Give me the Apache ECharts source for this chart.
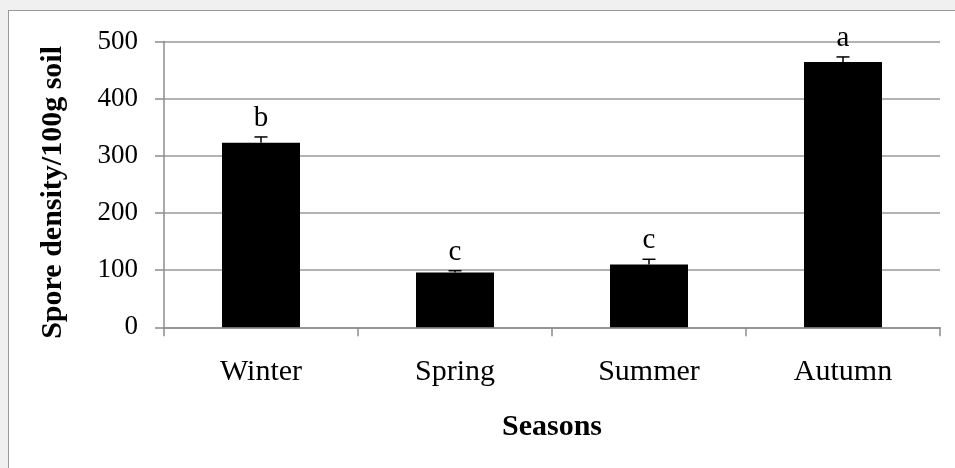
<!DOCTYPE html>
<html>
<head>
<meta charset="utf-8">
<script src="https://cdn.jsdelivr.net/npm/echarts@6/dist/echarts.min.js"></script>
<style>
  html, body { margin: 0; padding: 0; background: #f0f0f0; }
  #frame { position: absolute; left: 8px; top: 10px; width: 947px; height: 458px; background: #ffffff; border-left: 1px solid #9a9a9a; border-top: 1px solid #9a9a9a; box-sizing: border-box; }
  #chart { position: absolute; left: 0; top: 0; width: 955px; height: 468px; }
</style>
</head>
<body>
<div id="frame"></div>
<div id="chart"></div>
<script>
const categories = ['Winter', 'Spring', 'Summer', 'Autumn'];
const sporeDensity = [323, 96, 110, 464];
const errorPlus = [10, 3, 9, 9];
const letters = ['b', 'c', 'c', 'a'];
const yTicks = [0, 100, 200, 300, 400, 500];

const FONT = '"Liberation Serif", "Times New Roman", serif';
const chart = echarts.init(document.getElementById('chart'), null, { renderer: 'canvas' });

const errData = categories.map((c, i) => [i, sporeDensity[i], errorPlus[i], letters[i]]);

chart.setOption({
  backgroundColor: 'transparent',
  animation: false,
  grid: { left: 164, right: 15, top: 41.5, bottom: 140.7, containLabel: false },
  xAxis: {
    type: 'category',
    data: categories,
    name: 'Seasons',
    nameLocation: 'middle',
    nameGap: 85,
    nameTextStyle: { fontFamily: FONT, fontSize: 30, fontWeight: 'bold', color: '#000' },
    axisLine: { lineStyle: { color: '#8c8c8c', width: 1.5 } },
    axisTick: { show: true, length: 9, alignWithLabel: false, lineStyle: { color: '#8c8c8c', width: 1.5 } },
    axisLabel: { fontFamily: FONT, fontSize: 30, color: '#000', margin: 30 },
    splitLine: { show: false }
  },
  yAxis: {
    type: 'value',
    min: yTicks[0],
    max: yTicks[yTicks.length - 1],
    interval: 100,
    name: 'Spore density/100g soil',
    nameLocation: 'middle',
    nameRotate: 90,
    nameGap: 96,
    nameTextStyle: { fontFamily: FONT, fontSize: 30, fontWeight: 'bold', color: '#000', padding: [0, 16, 0, 0] },
    axisLine: { show: true, lineStyle: { color: '#8c8c8c', width: 1.5 } },
    axisTick: { show: true, length: 9, lineStyle: { color: '#8c8c8c', width: 1.5 } },
    axisLabel: { fontFamily: FONT, fontSize: 27, color: '#000', margin: 26 },
    splitLine: { show: true, lineStyle: { color: '#9a9a9a', width: 1.5 } }
  },
  series: [
    {
      type: 'bar',
      data: sporeDensity,
      barWidth: 78,
      itemStyle: { color: '#000000' },
      z: 2
    },
    {
      type: 'custom',
      data: errData,
      z: 3,
      renderItem: function (params, api) {
        const x = api.value(0);
        const v = api.value(1);
        const e = api.value(2);
        const letter = api.value(3);
        const p0 = api.coord([x, v]);
        const p1 = api.coord([x, v + e]);
        const half = 6.5;
        return {
          type: 'group',
          children: [
            { type: 'line', shape: { x1: p0[0], y1: p0[1], x2: p1[0], y2: p1[1] }, style: { stroke: '#000', lineWidth: 1.5 } },
            { type: 'line', shape: { x1: p1[0] - half, y1: p1[1], x2: p1[0] + half, y2: p1[1] }, style: { stroke: '#000', lineWidth: 1.5 } },
            { type: 'text', style: { text: letter, x: p1[0], y: p1[1] - 4, align: 'center', verticalAlign: 'bottom', font: '29px ' + FONT, fill: '#000' } }
          ]
        };
      }
    }
  ]
});
</script>
</body>
</html>
